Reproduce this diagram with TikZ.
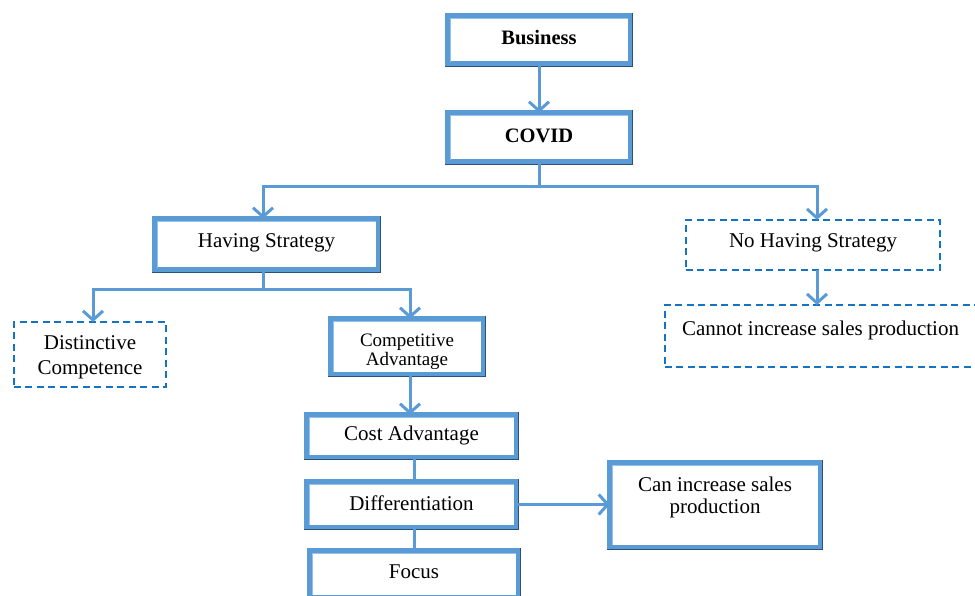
\documentclass[tikz,border=0pt]{standalone}
\usepackage{fontspec}
\setmainfont{Liberation Serif}
\usetikzlibrary{arrows.meta}
\definecolor{connc}{RGB}{91,155,213}
\definecolor{boxb}{RGB}{91,155,213}
\definecolor{boxlight}{RGB}{150,195,235}
\definecolor{boxdark}{RGB}{45,80,120}
\definecolor{dashc}{RGB}{20,115,195}
\newcommand{\txtat}[2]{\raisebox{#1}[0pt][0pt]{#2}}
\newcommand{\twolines}[2]{\begin{tabular}[t]{@{}c@{}}#1\\#2\end{tabular}}
\tikzset{
  solidbox/.style={draw=boxb, line width=5.5pt, fill=white, rectangle,
    inner sep=0pt, outer sep=0pt, align=center,
    font=\fontsize{21}{25}\selectfont,
    append after command={
      ([xshift=-2.3pt,yshift=-2.3pt]\tikzlastnode.north east) edge[draw=boxlight, line width=1pt]
      ([xshift=2.3pt,yshift=-2.3pt]\tikzlastnode.north west)
      ([xshift=2.3pt,yshift=-2.3pt]\tikzlastnode.north west) edge[draw=boxlight, line width=1pt]
      ([xshift=2.3pt,yshift=2.3pt]\tikzlastnode.south west)
      ([xshift=2.1pt,yshift=2.75pt]\tikzlastnode.north east) edge[draw=boxdark, line width=1.3pt]
      ([xshift=2.1pt,yshift=-2.75pt]\tikzlastnode.south east)
      ([xshift=2.75pt,yshift=-2.1pt]\tikzlastnode.south east) edge[draw=boxdark, line width=1.3pt]
      ([xshift=-2.75pt,yshift=-2.1pt]\tikzlastnode.south west)}},
  dashbox/.style={draw=dashc, line width=1.9pt, dash pattern=on 7pt off 4.5pt,
    fill=white, rectangle, inner sep=0pt, outer sep=0pt, align=center,
    font=\fontsize{21}{25}\selectfont},
  conn/.style={draw=connc, line width=3pt},
  arr/.style={conn, -{Straight Barb[length=9pt,width=20pt]}}
}
\begin{document}
\begin{tikzpicture}[x=1pt,y=-1pt]
\useasboundingbox (0,0) rectangle (975,596);
\node[solidbox, font=\fontsize{20.5}{24}\selectfont\bfseries, minimum width=182.5pt, minimum height=48.5pt] (bus) at (539,40) {\txtat{-5pt}{Business}};
\node[solidbox, font=\fontsize{20.5}{24}\selectfont\bfseries, minimum width=182.5pt, minimum height=49.5pt] (cov) at (539,137.5) {\txtat{-5.5pt}{COVID}};
\node[solidbox, minimum width=223.5pt, minimum height=51.5pt] (hav) at (266.5,244.5) {\txtat{-3.5pt}{Having Strategy}};
\node[dashbox, minimum width=254.1pt, minimum height=50.1pt] (nohav) at (813,245) {\txtat{-2pt}{No Having Strategy}};
\node[dashbox, minimum width=311.1pt, minimum height=62.1pt] (cannot) at (820.5,336) {\txtat{1pt}{Cannot increase sales production}};
\node[dashbox, font=\fontsize{21}{25}\selectfont, minimum width=152.1pt, minimum height=65.1pt] (dist) at (90,354.5) {\txtat{5.5pt}{\twolines{Distinctive}{Competence}}};
\node[solidbox, font=\fontsize{19}{19.5}\selectfont, minimum width=152.5pt, minimum height=55.5pt] (comp) at (407,346.5) {\txtat{0.5pt}{\twolines{Competitive}{Advantage}}};
\node[solidbox, minimum width=209.5pt, minimum height=42.5pt] (cost) at (411.5,436) {\txtat{-4.5pt}{Cost Advantage}};
\node[solidbox, minimum width=209.5pt, minimum height=45.5pt] (diff) at (411.5,504.5) {\txtat{-5.5pt}{Differentiation}};
\node[solidbox, font=\fontsize{21}{22.5}\selectfont, minimum width=210.5pt, minimum height=84.5pt] (can) at (715,505) {\txtat{14pt}{\twolines{Can increase sales}{production}}};
\node[solidbox, minimum width=208.5pt, minimum height=46.5pt] (foc) at (414,574) {\txtat{-4pt}{Focus}};
\coordinate (s1) at (539,187);
\coordinate (s2) at (263,290);
\draw[arr] (bus.south) -- (cov.north);
\draw[conn] (cov.south) -- (s1);
\draw[arr] (s1) -| ([xshift=-3.5pt]hav.north);
\draw[arr] (s1) -| ([xshift=4pt]nohav.north);
\draw[arr] ([xshift=4pt]nohav.south) -- ([xshift=4pt]nohav.south |- cannot.north);
\draw[conn] ([xshift=-3.5pt]hav.south) -- (s2);
\draw[arr] (s2) -| ([xshift=3pt]dist.north);
\draw[arr] (s2) -| ([xshift=3pt]comp.north);
\draw[arr] ([xshift=3pt]comp.south) -- ([xshift=3pt]comp.south |- cost.north);
\draw[conn] ([xshift=3pt]cost.south) -- ([xshift=3pt]cost.south |- diff.north);
\draw[conn] ([xshift=3pt]diff.south) -- ([xshift=3pt]diff.south |- foc.north);
\draw[arr] (diff.east) -- (diff.east -| can.west);
\end{tikzpicture}
\end{document}
